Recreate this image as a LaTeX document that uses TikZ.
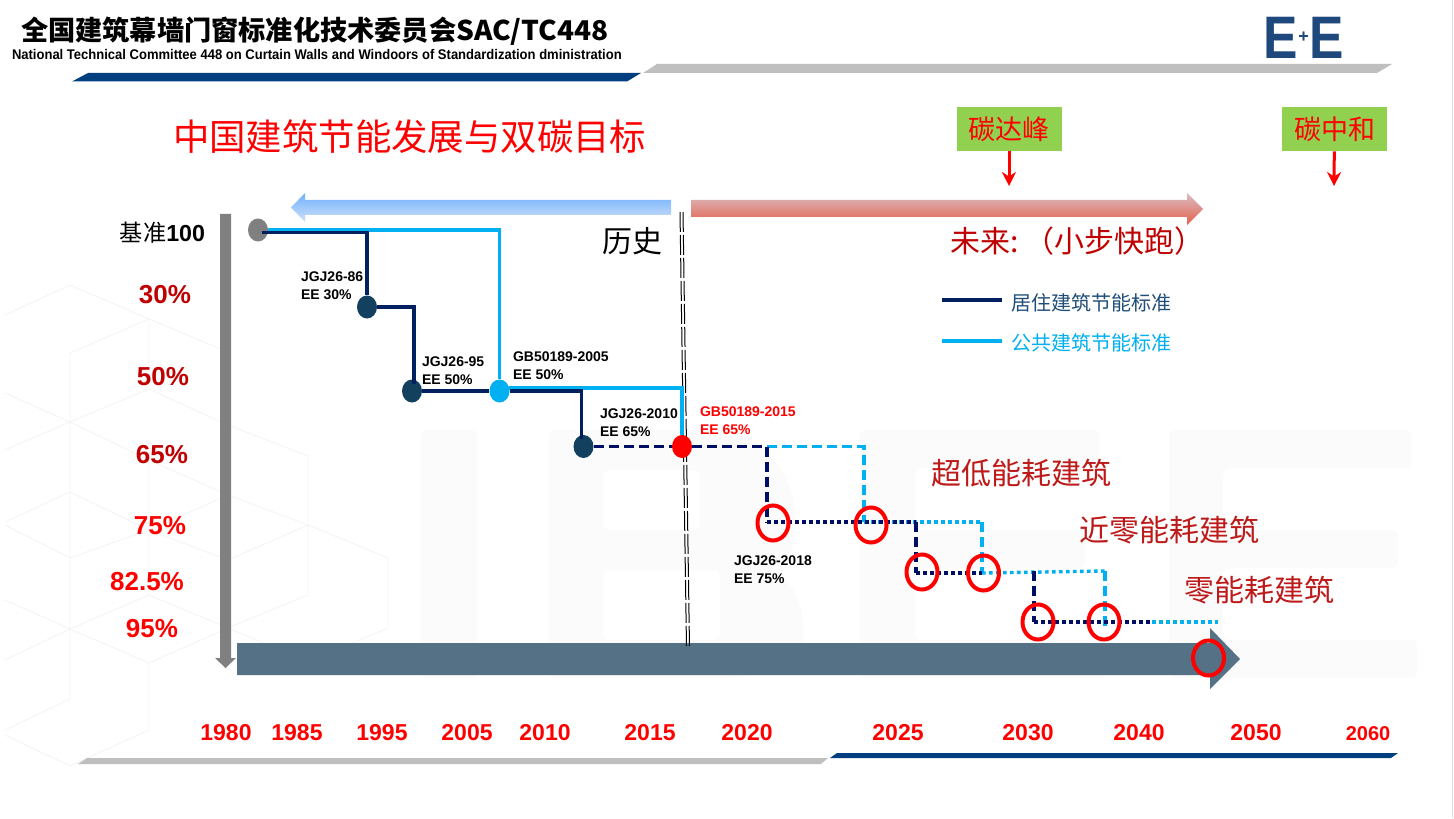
\documentclass[tikz,border=0pt]{standalone}
\usepackage{fontspec}
\setmainfont{Liberation Sans}
\newfontfamily\cjk{Noto Sans CJK SC}
\usetikzlibrary{shapes.geometric,arrows.meta}
\definecolor{navyline}{HTML}{002060}
\definecolor{navydash}{HTML}{000F66}
\definecolor{skyline}{HTML}{00B0F0}
\definecolor{dotdark}{HTML}{14405F}
\definecolor{barnavy}{HTML}{003F7F}
\definecolor{bargray}{HTML}{BFBFBF}
\definecolor{slatebar}{HTML}{547186}
\definecolor{leafgreen}{HTML}{92D050}
\definecolor{deepred}{HTML}{C00000}
\definecolor{softred}{HTML}{BE1A1A}
\definecolor{logoblue}{HTML}{1F497D}
\definecolor{legendnavy}{HTML}{1F4E79}
\definecolor{hexline}{HTML}{F4F4F4}
\definecolor{ghost}{HTML}{FBFBFB}
\definecolor{bluetop}{HTML}{6FB1FF}
\definecolor{bluebot}{HTML}{CFE0F7}
\definecolor{redtop}{HTML}{D9BDC4}
\definecolor{redbot}{HTML}{E5604A}
\tikzset{
  txt/.style={inner sep=0pt,outer sep=0pt},
  lab/.style={txt,anchor=west,align=left,font=\fontsize{7}{9}\selectfont\bfseries},
  pct/.style={txt,font=\fontsize{13}{13}\selectfont\bfseries},
  yr/.style={txt,text=red,font=\fontsize{11.5}{12}\selectfont\bfseries},
  cn/.style={txt,anchor=west,font=\fontsize{15}{15}\selectfont\cjk},
  dot/.style={ellipse,fill=#1,draw=none,minimum width=10pt,minimum height=11.5pt,inner sep=0pt},
  ring/.style={ellipse,draw=red,line width=2pt,minimum width=15.5pt,minimum height=17.5pt,inner sep=0pt},
  greenbox/.style={fill=leafgreen,minimum width=52.5pt,minimum height=22pt,inner sep=0pt,text=red,font=\fontsize{13.5}{14}\selectfont\cjk},
  redarrow/.style={draw=red,line width=1.5pt,-{Stealth[length=7pt,width=7pt]}},
  navysolid/.style={draw=navyline,line width=1.6pt},
  skysolid/.style={draw=skyline,line width=1.6pt},
  navydashed/.style={draw=navydash,line width=1.7pt,dash pattern=on 5pt off 2.5pt},
  skydashed/.style={draw=skyline,line width=1.7pt,dash pattern=on 5pt off 2.5pt},
  navydotted/.style={draw=navydash,line width=1.7pt,dash pattern=on 1.8pt off 1.7pt},
  skydotted/.style={draw=skyline,line width=1.7pt,dash pattern=on 1.8pt off 1.7pt},
  centerline/.style={draw=black,line width=.5pt,dash pattern=on 10pt off 1.5pt}
}
\begin{document}
\begin{tikzpicture}[x=0.5pt,y=-0.5pt]
\useasboundingbox (0,0) rectangle (1454,818);
\fill[white] (0,0) rectangle (1454,818);
\draw[gray!25,line width=.4pt] (1452.5,0) -- (1452.5,818);
% faint hexagon pattern
\draw[hexline,line width=.4pt]
 (5,315)--(70,285)--(149,319)--(228,352)
 (149,319)--(70,353)--(70,422) (149,319)--(149,389)
 (5,393)--(70,422)--(149,389)--(228,425)--(308,456)--(308,525)
 (70,422)--(149,460)--(228,495) (149,460)--(149,530)
 (5,450)--(70,422)--(70,492)
 (5,522)--(70,492)--(149,530)--(228,495)--(308,525)--(388,558)--(388,628)--(308,662)
 (5,525)--(70,558)--(149,530) (70,492)--(70,558)--(70,629)
 (308,525)--(228,560)--(149,530)
 (308,525)--(308,595)--(228,628)
 (5,600)--(70,629)--(149,595)--(228,628)--(268,645)
 (149,530)--(149,595)
 (70,629)--(149,663)--(228,628)
 (5,660)--(70,629)--(70,699)--(5,730)
 (149,663)--(149,730)--(70,766)--(5,735);
% faint letters
\begin{scope}[fill=ghost,rounded corners=3pt]
\fill (421,430) rectangle (477,678);
\fill[even odd rule] (549,430)--(700,430)..controls (770,430) and (795,480) .. (795,525) ..controls (795,555) and (780,565) .. (770,570) ..controls (800,585) and (803,620) .. (803,630) ..controls (803,665) and (770,678) .. (710,678)--(549,678)--cycle
  (603,470) rectangle (700,530) (603,570) rectangle (720,640);
\fill (860,430)--(1099,430)--(1099,468)--(915,468)--(915,530)--(1085,530)--(1085,568)--(915,568)--(915,640)--(1105,640)--(1105,678)--(860,678)--cycle;
\fill (1169,430)--(1411,430)--(1411,468)--(1223,468)--(1223,530)--(1398,530)--(1398,568)--(1223,568)--(1223,640)--(1417,640)--(1417,678)--(1169,678)--cycle;
\end{scope}
% bars
\fill[barnavy] (72,81.5)--(88,73)--(641,73)--(627,81.5)--cycle;
\fill[bargray] (643,73)--(657,64)--(1392,64)--(1377,73)--cycle;
\fill[bargray] (78,764)--(87,758)--(828,758)--(821,764)--cycle;
\fill[barnavy] (830,758)--(837,753)--(1398,753)--(1391,758)--cycle;
% header
\node[txt,anchor=west] (title) at (21,31) {\fontsize{13.6}{14}\selectfont\cjk\bfseries 全国建筑幕墙门窗标准化技术委员会\addfontfeatures{FakeStretch=1.03}SAC/TC448};
\node[txt,anchor=west] (subtitle) at (12,54.5) {\addfontfeatures{FakeStretch=0.93}\fontsize{7}{7}\selectfont\bfseries National Technical Committee 448 on Curtain Walls and Windoors of Standardization dministration};
\node[txt,text=logoblue,xscale=.86,font=\fontsize{30}{30}\selectfont\bfseries] (logoa) at (1281,37.5) {E};
\node[txt,text=logoblue,font=\fontsize{9}{9}\selectfont\bfseries] (logop) at (1303.5,37) {+};
\node[txt,text=logoblue,xscale=.86,font=\fontsize{30}{30}\selectfont\bfseries] (logob) at (1326.5,37.5) {E};
\node[txt,anchor=west,text=red,font=\fontsize{18.2}{18}\selectfont\cjk] (heading) at (173,137) {中国建筑节能发展与双碳目标};
% green boxes
\node[greenbox] (peak) at (1009,129) {碳达峰};
\node[greenbox] (neutral) at (1334.5,129) {碳中和};
\coordinate (peakend) at (1009,186);
\coordinate (neutralend) at (1334,186);
\draw[redarrow] (peak) -- (peakend);
\draw[redarrow] (neutral) -- (neutralend);
% direction arrows
\shade[top color=bluetop,bottom color=bluebot] (671,200)--(305,200)--(305,193)--(291,207.5)--(305,222)--(305,215)--(671,215)--cycle;
\shade[top color=redtop,bottom color=redbot] (691,200)--(1187,200)--(1187,193)--(1203,209)--(1187,225)--(1187,217)--(691,217)--cycle;
\node[cn,anchor=center,text=black] (hist) at (632,241) {历史};
\node[cn,text=deepred] (future) at (950,241) {未来:\hspace{3pt}（小步快跑）};
% axes
\fill[gray] (220,214)--(231,214)--(231,658)--(236,658)--(225.5,668)--(215,658)--(220,658)--cycle;
\fill[slatebar] (237,643)--(1210,643)--(1210,628)--(1240,659)--(1210,689)--(1210,675)--(237,675)--cycle;
% centre double line
\coordinate (cla) at (680,212);
\coordinate (clb) at (686.5,648);
\coordinate (clc) at (683,212);
\coordinate (cld) at (689.5,648);
\draw[centerline] (cla) -- (clb);
\draw[centerline] (clc) -- (cld);
% dots
\node[dot=gray] (g0) at (258,230) {};
\node[dot=dotdark] (d86) at (367,307) {};
\node[dot=dotdark] (d95) at (412,391) {};
\node[dot=skyline] (s05) at (499.5,391) {};
\node[dot=dotdark] (d10) at (583.5,446.5) {};
\node[dot=red] (r15) at (682,446.5) {};
% elbows
\coordinate (nz) at (262,232.5);
\coordinate (n1) at (367,232.5);
\coordinate (n2) at (414,307);
\coordinate (n3) at (414,384);
\coordinate (n4) at (581.5,391);
\coordinate (n5) at (581.5,439);
\coordinate (s1) at (499.5,230);
\coordinate (s2) at (509,388);
\coordinate (s3) at (682,388);
\coordinate (b1) at (767,446.5);
\coordinate (b2) at (864,446.5);
\coordinate (c1) at (767,522);
\coordinate (c2) at (864,522);
\coordinate (c3) at (916,522);
\coordinate (c4) at (982,522);
\coordinate (e1) at (916,573);
\coordinate (e2) at (982,573);
\coordinate (e3) at (1034,571);
\coordinate (e4) at (1105,571);
\coordinate (f1) at (1034,622);
\coordinate (f2) at (1105,630);
\coordinate (f3) at (1152,622);
\coordinate (f4) at (1218,622);
% solid standards
\draw[skysolid,line join=miter] (g0) -- (s1) -- (s05);
\draw[navysolid] (nz) -- (n1) -- (d86);
\draw[navysolid] (d86) -- (n2) -- (n3);
\draw[skysolid] (s2) -- (s3) -- (r15);
\draw[navysolid] (d95) -- (s05);
\draw[navysolid] (s05) -- (n4) -- (n5);
% dashed and dotted standards
\draw[skydashed] (r15) -- (b1) -- (b2) -- (c2);
\draw[navydashed] (d10) -- (r15);
\draw[navydashed] (r15) -- (b1) -- (c1);
\draw[skydotted] (c2) -- (c4);
\draw[skydashed] (c4) -- (e2);
\draw[navydotted] (c1) -- (c3);
\draw[navydashed] (c3) -- (e1);
\draw[skydotted] (e2) -- (e4);
\draw[skydashed] (e4) -- (f2);
\draw[navydotted] (e1) -- (e2);
\draw[navydashed] (e3) -- (f1);
\draw[skydotted] (f3) -- (f4);
\draw[navydotted] (f1) -- (f3);
% rings
\node[ring] (ra) at (773,523) {};
\node[ring] (rb) at (871,525) {};
\node[ring] (rc) at (922,572) {};
\node[ring] (rd) at (983.5,573) {};
\node[ring] (re) at (1038,622) {};
\node[ring] (rf) at (1104,622) {};
\node[ring] (rg) at (1208.5,658) {};
% standard labels
\node[lab] (l86) at (301,286) {JGJ26-86\\EE 30\%};
\node[lab] (l95) at (422,371) {JGJ26-95\\EE 50\%};
\node[lab] (l05) at (513,366) {GB50189-2005\\EE 50\%};
\node[lab] (l10) at (600,422.5) {JGJ26-2010\\EE 65\%};
\node[lab,text=red] (l15) at (700,421) {GB50189-2015\\EE 65\%};
\node[lab] (l18) at (734,570) {JGJ26-2018\\EE 75\%};
% legend
\coordinate (lga) at (942,300);
\coordinate (lgb) at (1002,300);
\coordinate (lgc) at (942,341);
\coordinate (lgd) at (1002,341);
\draw[draw=navyline,line width=2pt] (lga) -- (lgb);
\draw[draw=skyline,line width=2pt] (lgc) -- (lgd);
\node[txt,anchor=west,text=legendnavy,font=\fontsize{10}{10}\selectfont\cjk] (lgt1) at (1011,303) {居住建筑节能标准};
\node[txt,anchor=west,text=skyline,font=\fontsize{10}{10}\selectfont\cjk] (lgt2) at (1011,343) {公共建筑节能标准};
% stage labels
\node[cn,text=softred] (st1) at (931,473) {超低能耗建筑};
\node[cn,text=softred] (st2) at (1079,530) {近零能耗建筑};
\node[cn,text=softred] (st3) at (1184,590) {零能耗建筑};
% y axis labels
\node[txt,anchor=east] (base) at (205,233) {\fontsize{11.6}{12}\selectfont{\cjk 基准}\bfseries 100};
\node[pct,text=deepred] (p30) at (165,295) {30\%};
\node[pct,text=deepred] (p50) at (163,377) {50\%};
\node[pct,text=deepred] (p65) at (162,455) {65\%};
\node[pct,text=red] (p75) at (160,526) {75\%};
\node[pct,text=red] (p82) at (147,582) {82.5\%};
\node[pct,text=red] (p95) at (152,629) {95\%};
% years
\node[yr] (y80) at (226,733) {1980};
\node[yr] (y85) at (297,733) {1985};
\node[yr] (y95) at (382,733) {1995};
\node[yr] (y05) at (467,733) {2005};
\node[yr] (y10) at (545,733) {2010};
\node[yr] (y15) at (650,733) {2015};
\node[yr] (y20) at (747,733) {2020};
\node[yr] (y25) at (898,733) {2025};
\node[yr] (y30) at (1028,733) {2030};
\node[yr] (y40) at (1139,733) {2040};
\node[yr] (y50) at (1256,733) {2050};
\node[yr,font=\fontsize{10}{10}\selectfont\bfseries] (y60) at (1368,734) {2060};
\end{tikzpicture}
\end{document}
